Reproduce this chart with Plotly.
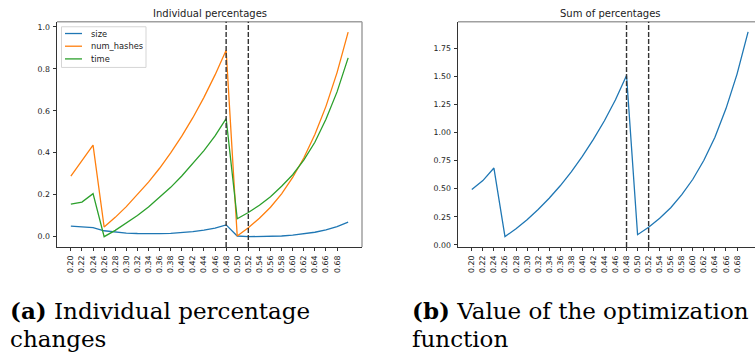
import plotly.graph_objects as go

# Threshold values swept along the x axis
thresholds = [0.20, 0.22, 0.24, 0.26, 0.28, 0.30, 0.32, 0.34, 0.36, 0.38,
              0.40, 0.42, 0.44, 0.46, 0.48, 0.50, 0.52, 0.54, 0.56, 0.58,
              0.60, 0.62, 0.64, 0.66, 0.68, 0.70]

# Individual percentage changes per metric
size = [0.050, 0.045, 0.043, 0.028, 0.021, 0.017, 0.015, 0.014, 0.014, 0.016,
        0.019, 0.024, 0.031, 0.041, 0.056, 0.003, 0.000, 0.000, 0.001, 0.003,
        0.007, 0.013, 0.021, 0.032, 0.048, 0.069]
num_hashes = [0.289, 0.362, 0.436, 0.046, 0.092, 0.143, 0.199, 0.260, 0.326, 0.399,
              0.479, 0.567, 0.664, 0.771, 0.888, 0.003, 0.042, 0.088, 0.140, 0.204,
              0.282, 0.375, 0.487, 0.621, 0.782, 0.975]
time = [0.155, 0.165, 0.205, 0.000, 0.030, 0.064, 0.101, 0.141, 0.186, 0.235,
        0.289, 0.348, 0.410, 0.480, 0.563, 0.085, 0.115, 0.150, 0.190, 0.240,
        0.295, 0.365, 0.450, 0.560, 0.690, 0.852]

# Optimization function: sum of the three percentages
total = [a + b + c for a, b, c in zip(size, num_hashes, time)]

# Marked thresholds
marked = [0.48, 0.52]

# Tick labels
x_ticks = [0.20 + 0.02 * i for i in range(25)]
x_tick_labels = ["%.2f" % v for v in x_ticks]
y1_ticks = [0.0, 0.2, 0.4, 0.6, 0.8, 1.0]
y1_tick_labels = ["0.0", "0.2", "0.4", "0.6", "0.8", "1.0"]
y2_ticks = [0.0, 0.25, 0.5, 0.75, 1.0, 1.25, 1.5, 1.75]
y2_tick_labels = ["0.00", "0.25", "0.50", "0.75", "1.00", "1.25", "1.50", "1.75"]

W, H = 755, 360
BLUE, ORANGE, GREEN = "#1f77b4", "#ff7f0e", "#2ca02c"
FONT = "DejaVu Sans"
TICKFONT = dict(family=FONT, size=7.8, color="#222")
series = [("size", size, BLUE), ("num_hashes", num_hashes, ORANGE),
          ("time", time, GREEN)]

fig = go.Figure()
for name, vals, col in series:
    fig.add_trace(go.Scatter(x=thresholds, y=vals, mode="lines", name=name,
                             line=dict(color=col, width=1.3),
                             xaxis="x", yaxis="y"))
fig.add_trace(go.Scatter(x=thresholds, y=total, mode="lines", name="sum",
                         line=dict(color=BLUE, width=1.3),
                         xaxis="x2", yaxis="y2"))


def px_x(p):
    return p / W


def px_y(p):
    return 1 - p / H


common_x = dict(tickmode="array", tickvals=x_ticks, ticktext=x_tick_labels,
                tickangle=-90, ticks="outside", ticklen=3.5, tickwidth=0.8,
                tickcolor="#333", showline=True, linecolor="#333", linewidth=1,
                showgrid=False, zeroline=False, tickfont=TICKFONT,
                ticklabelstandoff=1)
common_y = dict(tickmode="array", ticks="outside", ticklen=3.5, tickwidth=0.8,
                tickcolor="#333", showline=True, linecolor="#333", linewidth=1,
                showgrid=False, zeroline=False, tickfont=TICKFONT,
                ticklabelstandoff=1)

fig.update_layout(
    width=W, height=H,
    margin=dict(l=0, r=0, t=0, b=0),
    paper_bgcolor="white", plot_bgcolor="white",
    xaxis=dict(domain=[px_x(57), px_x(362)], range=[0.175, 0.725], anchor="y",
               **common_x),
    yaxis=dict(domain=[px_y(249), px_y(22)], range=[-0.049, 1.024], anchor="x",
               tickvals=y1_ticks, ticktext=y1_tick_labels, **common_y),
    xaxis2=dict(domain=[px_x(458), 1.0], range=[0.175, 0.7125], anchor="y2",
                **common_x),
    yaxis2=dict(domain=[px_y(249), px_y(22)], range=[-0.018, 1.985], anchor="x2",
                tickvals=y2_ticks, ticktext=y2_tick_labels, **common_y),
    showlegend=False,
)

shapes = []
# light top/right frame edges
for xa, ya, right in [("x", "y", True), ("x2", "y2", False)]:
    shapes.append(dict(type="line", xref=xa + " domain", yref=ya + " domain",
                       x0=0, x1=1, y0=1, y1=1,
                       line=dict(color="#a0a0a0", width=1.5)))
    if right:
        shapes.append(dict(type="line", xref=xa + " domain", yref=ya + " domain",
                           x0=1, x1=1, y0=0, y1=1,
                           line=dict(color="#a0a0a0", width=1.5)))
    for m in marked:
        shapes.append(dict(type="line", xref=xa, yref=ya + " domain",
                           x0=m, x1=m, y0=0, y1=1,
                           line=dict(color="#333", width=1.4, dash="5px,2px")))

annotations = [
    dict(text="Individual percentages", x=px_x(209.5), y=px_y(13.5),
         font=dict(family=FONT, size=10, color="#222")),
    dict(text="Sum of percentages", x=px_x(610), y=px_y(13.5),
         font=dict(family=FONT, size=10, color="#222")),
]

# compact legend box for the left panel
shapes.append(dict(type="rect", xref="paper", yref="paper",
                   x0=px_x(61.5), x1=px_x(146), y0=px_y(68), y1=px_y(27),
                   line=dict(color="#d5d5d5", width=1), fillcolor="white",
                   layer="above"))
for i, (name, _, col) in enumerate(series):
    yy = 33.8 + 12.8 * i
    shapes.append(dict(type="line", xref="paper", yref="paper",
                       x0=px_x(65), x1=px_x(82), y0=px_y(yy), y1=px_y(yy),
                       line=dict(color=col, width=1.3), layer="above"))
    annotations.append(dict(text=name, x=px_x(88.5), y=px_y(yy), xanchor="left",
                            font=dict(family=FONT, size=8.3, color="#222")))
fig.update_layout(shapes=shapes)

CAP = dict(family="DejaVu Serif", size=23, color="black")
for txt, x, y in [("<b>(a)</b> Individual percentage", 8, 313),
                  ("changes", 8, 342),
                  ("<b>(b)</b> Value of the optimization", 410, 313),
                  ("function", 410, 342)]:
    annotations.append(dict(text=txt, x=px_x(x), y=px_y(y), xanchor="left",
                            yanchor="middle", font=CAP))
for a in annotations:
    a.update(xref="paper", yref="paper", showarrow=False)
    a.setdefault("xanchor", "center")
    a.setdefault("yanchor", "middle")
fig.update_layout(annotations=annotations)

fig.write_html("out.html")
